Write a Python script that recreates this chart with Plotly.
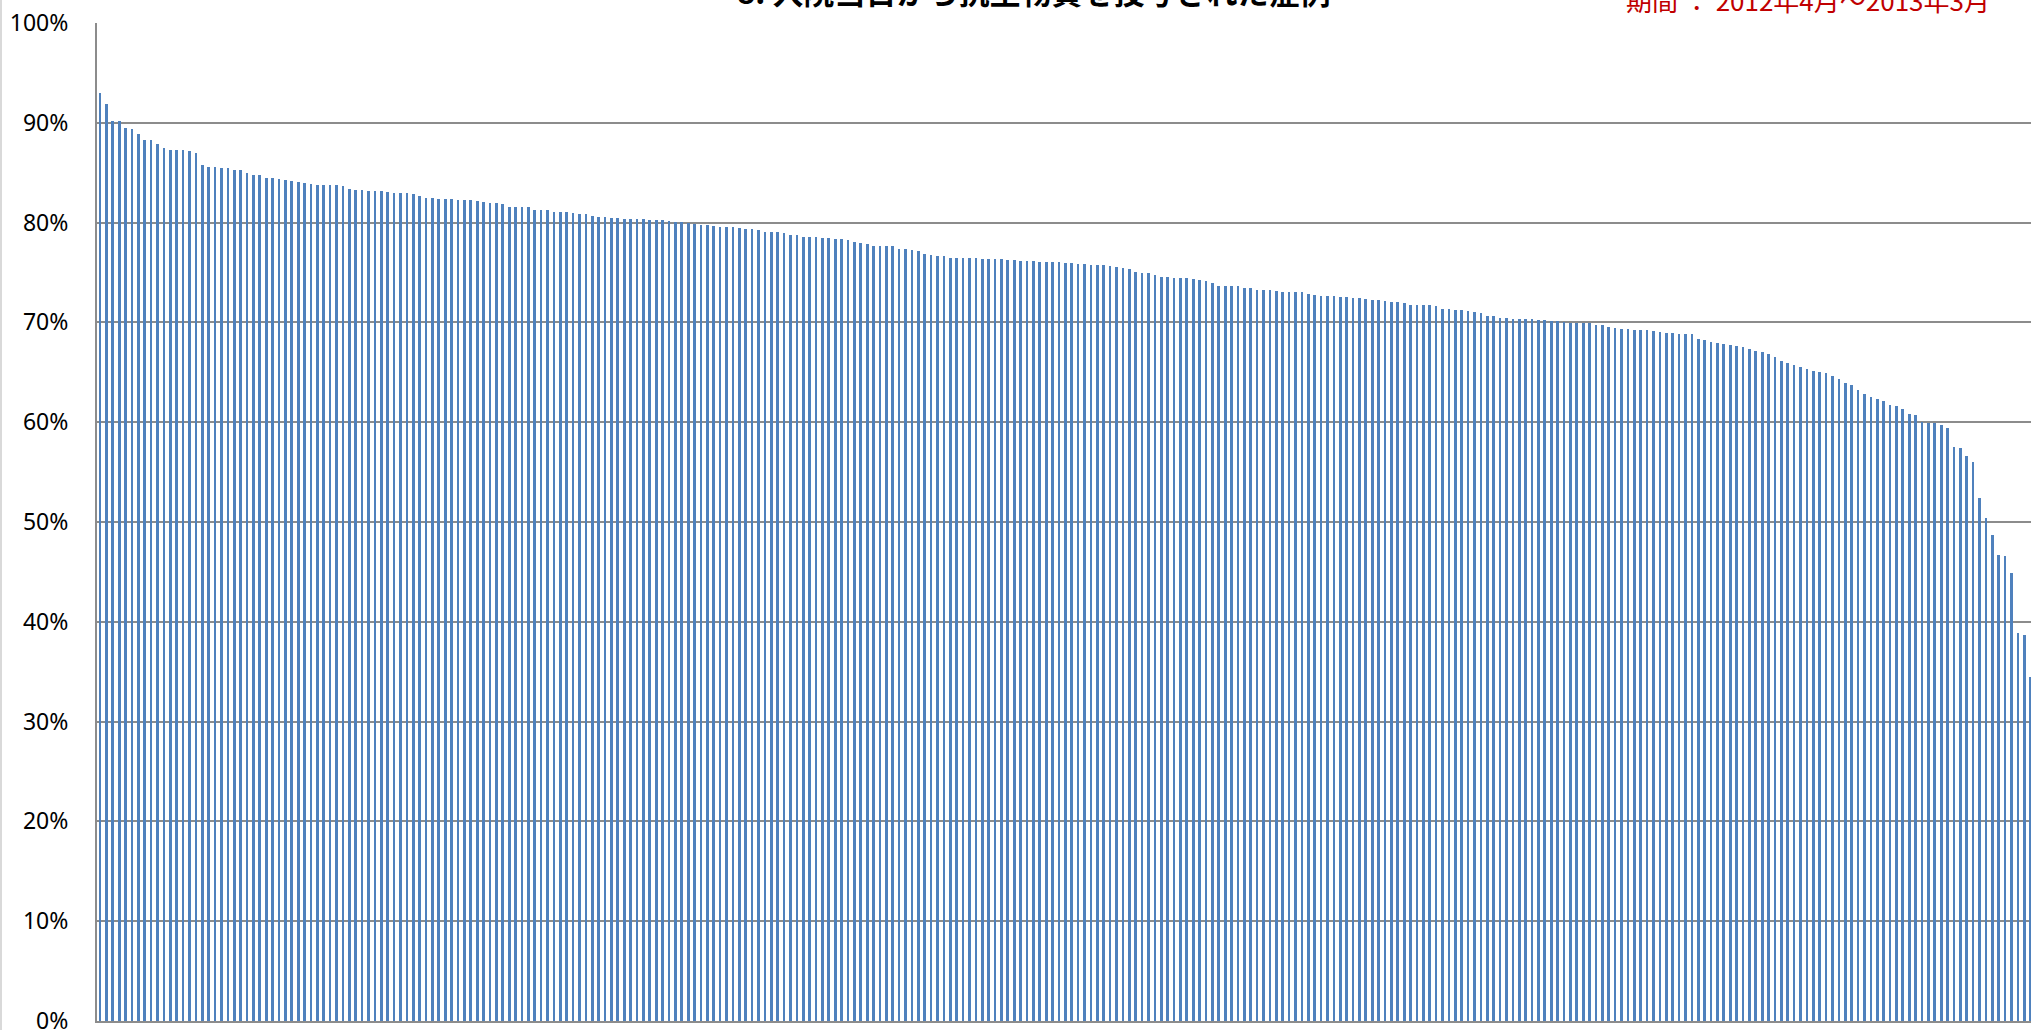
import plotly.graph_objects as go

# share of cases given antibiotics on the day of admission, sorted high -> low (percent)
share_top = [
    93.0, 91.9, 90.2, 90.15, 89.5, 89.4, 88.9, 88.3, 88.3, 87.9,
    87.5, 87.3, 87.3, 87.3, 87.2, 87.0, 85.8, 85.6, 85.6, 85.5,
    85.5, 85.3, 85.3, 85.0, 84.8, 84.8, 84.5, 84.5, 84.4, 84.3,
    84.2, 84.1, 84.0, 83.9, 83.8, 83.8, 83.8, 83.8, 83.7, 83.4,
    83.3, 83.3, 83.2, 83.2, 83.2, 83.1, 83.0, 83.0, 83.0, 82.9,
    82.7, 82.5, 82.5, 82.4, 82.4, 82.4, 82.3, 82.3, 82.3, 82.2,
    82.1, 82.0, 82.0, 81.9, 81.6, 81.6, 81.6, 81.6, 81.3, 81.3,
    81.3, 81.1, 81.1, 81.1, 81.0, 80.9, 80.85, 80.7, 80.6, 80.55,
    80.5, 80.5, 80.4, 80.4, 80.4, 80.4, 80.3, 80.25, 80.25, 80.15,
    80.05, 80.05, 79.95, 79.9, 79.8, 79.8, 79.7, 79.6, 79.6, 79.55,
]
share_mid = [
    79.45, 79.4, 79.4, 79.3, 79.1, 79.1, 79.05, 79.0, 78.8, 78.8,
    78.6, 78.6, 78.55, 78.5, 78.5, 78.4, 78.4, 78.25, 78.1, 77.98,
    77.9, 77.7, 77.7, 77.7, 77.65, 77.4, 77.35, 77.25, 77.2, 76.9,
    76.8, 76.65, 76.65, 76.5, 76.5, 76.5, 76.5, 76.5, 76.4, 76.35,
    76.35, 76.35, 76.3, 76.25, 76.2, 76.2, 76.15, 76.1, 76.1, 76.05,
    76.05, 76.0, 75.97, 75.9, 75.9, 75.8, 75.8, 75.75, 75.65, 75.6,
    75.5, 75.4, 75.07, 75.0, 75.0, 74.8, 74.57, 74.5, 74.47, 74.4,
    74.4, 74.34, 74.2, 74.15, 73.9, 73.67, 73.67, 73.6, 73.6, 73.47,
    73.45, 73.2, 73.2, 73.2, 73.1, 73.08, 73.08, 73.0, 73.0, 72.87,
    72.77, 72.67, 72.63, 72.63, 72.57, 72.57, 72.43, 72.43, 72.3, 72.25,
]
share_low = [
    72.23, 72.16, 72.03, 72.0, 71.9, 71.76, 71.76, 71.76, 71.73, 71.66,
    71.36, 71.33, 71.26, 71.23, 71.16, 71.06, 70.93, 70.69, 70.63, 70.49,
    70.49, 70.36, 70.36, 70.36, 70.33, 70.23, 70.23, 70.16, 70.16, 70.09,
    69.93, 69.93, 69.93, 69.93, 69.69, 69.69, 69.56, 69.46, 69.36, 69.3,
    69.25, 69.2, 69.2, 69.1, 69.0, 68.9, 68.9, 68.85, 68.85, 68.8,
    68.3, 68.2, 68.0, 67.9, 67.8, 67.7, 67.6, 67.5, 67.3, 67.1,
    67.0, 66.8, 66.5, 66.1, 65.9, 65.7, 65.5, 65.3, 65.1, 65.0,
    64.9, 64.6, 64.3, 63.9, 63.7, 63.2, 62.8, 62.5, 62.3, 62.14,
    61.77, 61.6, 61.3, 60.87, 60.7, 60.07, 59.97, 59.9, 59.67, 59.46,
    57.56, 57.4, 56.63, 56.0, 52.38, 50.38, 48.7, 46.73, 46.63, 44.87,
    38.85, 38.65, 34.5,
]
share_pct = share_top + share_mid + share_low
case_no = list(range(len(share_pct)))

y_ticks = [0, 0.1, 0.2, 0.3, 0.4, 0.5, 0.6, 0.7, 0.8, 0.9, 1.0]
y_labels = ['0%', '10%', '20%', '30%', '40%', '50%', '60%', '70%', '80%', '90%', '100%']

title_text = '8. 入院当日から抗生物質を投与された症例'
period_text = '期間 ： 2012年4月～2013年3月'

fig = go.Figure()
fig.add_trace(
    go.Bar(
        x=case_no,
        y=[v / 100 for v in share_pct],
        width=0.42,
        marker=dict(color='#4F81BD', line=dict(width=0)),
        hovertemplate='%{y:.1%}<extra></extra>',
    )
)

W, H = 2031, 1030
ml, mr, mt, mb = 97, 0, 23, 9

fig.update_xaxes(
    range=[-0.47, 302.05],
    showticklabels=False,
    ticks='',
    showgrid=False,
    showline=True,
    linecolor='#8c8c8c',
    linewidth=2,
    zeroline=False,
    automargin=False,
)
fig.update_yaxes(
    range=[0, 1],
    tickvals=y_ticks,
    ticktext=y_labels,
    ticks='',
    ticklabelstandoff=22,
    ticklabeloverflow='allow',
    tickfont=dict(family='Noto Sans, Open Sans, sans-serif', size=23, color='#000000'),
    showgrid=True,
    gridcolor='#8c8c8c',
    gridwidth=2,
    showline=True,
    linecolor='#8c8c8c',
    linewidth=2,
    zeroline=False,
    automargin=False,
)

plot_h = H - mt - mb
plot_w = W - ml - mr

# title sits partly above the page, as in the source image
fig.add_annotation(
    text=f'<b>{title_text}</b>',
    xref='paper', yref='paper',
    x=(1033 - ml) / plot_w, y=1 + (mt - 15) / plot_h,
    xanchor='center', yanchor='bottom',
    showarrow=False,
    font=dict(family='Noto Sans CJK JP', size=31, color='#000000'),
)
fig.add_annotation(
    text=period_text,
    xref='paper', yref='paper',
    x=(1992 - ml) / plot_w, y=1 + (mt - 20) / plot_h,
    xanchor='right', yanchor='bottom',
    showarrow=False,
    font=dict(family='Noto Sans CJK JP', size=26, color='#C00000'),
)

# light chart border at the far left
fig.add_shape(
    type='line', xref='paper', yref='paper',
    x0=-(ml - 1) / plot_w, x1=-(ml - 1) / plot_w, y0=-mb / plot_h, y1=1 + mt / plot_h,
    line=dict(color='#d9d9d9', width=2),
)

fig.update_layout(
    width=W, height=H,
    margin=dict(l=ml, r=mr, t=mt, b=mb, autoexpand=False),
    plot_bgcolor='#ffffff',
    paper_bgcolor='#ffffff',
    showlegend=False,
    bargap=0,
)

# drop the default page margin so the figure fills the window exactly
fig.write_html(
    'out.html',
    config={'displayModeBar': False},
    post_script="document.body.style.margin='0';document.body.style.overflow='hidden';",
)
